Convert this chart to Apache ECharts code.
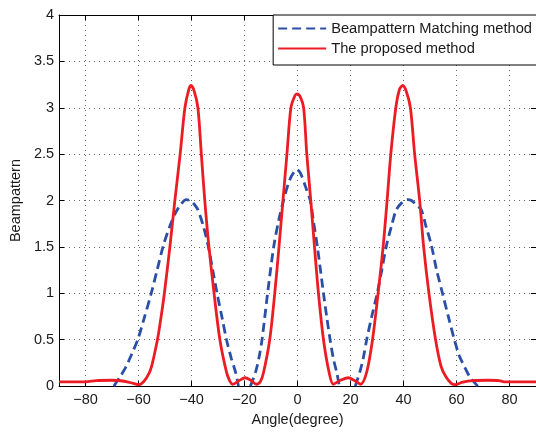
<!DOCTYPE html>
<html>
<head>
<meta charset="utf-8">
<script src="https://cdn.jsdelivr.net/npm/echarts@6/dist/echarts.min.js"></script>
<style>
html,body{margin:0;padding:0;background:#fff;}
#chart{width:536px;height:432px;}
</style>
</head>
<body>
<div id="chart"></div>
<script>
// ---- data ----
var xTicks = [-80, -60, -40, -20, 0, 20, 40, 60, 80];
var yTicks = [0, 0.5, 1, 1.5, 2, 2.5, 3, 3.5, 4];
var seriesNames = ['Beampattern Matching method', 'The proposed method'];

var matchAngles = [-69.3, -67, -64.7, -62.5, -60.3, -58, -55.3, -53, -50.6, -48.1, -46, -44, -42, -40.5, -39, -37.6, -35.5, -33.8, -32, -30.3, -28.5, -26.8, -25, -23.4, -22.3,
  -20,
  -17.8, -15.9, -14.6, -13.4, -11.3, -9.0, -7, -5.3, -3, -1, -0.2, 1, 3, 4.8, 6, 7.5, 9.8, 11, 12.3, 13.5, 14.8, 15.8,
  18.5,
  21.8, 23.5, 24.8, 26.1, 28, 30, 31.8, 33.6, 35.5, 37.3, 39.5, 41.5, 43, 45, 46.7, 48.5, 50.5, 52.5, 54.8, 57, 59.2, 61, 63, 65, 68];
var matchValues = [0, 0.1, 0.21, 0.35, 0.5, 0.72, 0.99, 1.25, 1.52, 1.73, 1.87, 1.96, 2.01, 2.0, 1.96, 1.9, 1.72, 1.52, 1.25, 0.99, 0.74, 0.5, 0.3, 0.15, 0,
  null,
  0, 0.145, 0.3, 0.5, 1.0, 1.5, 1.8, 2.0, 2.22, 2.32, 2.33, 2.3, 2.15, 2.0, 1.78, 1.5, 1.0, 0.75, 0.5, 0.3, 0.145, 0,
  null,
  0, 0.15, 0.3, 0.5, 0.75, 0.99, 1.25, 1.52, 1.73, 1.9, 1.98, 2.01, 2.0, 1.95, 1.9, 1.72, 1.52, 1.25, 0.99, 0.74, 0.5, 0.33, 0.21, 0.1, 0];

var propAngles = [-90, -80, -76, -70, -66, -62, -60, -58, -56, -55, -53, -52, -50.3, -48.1, -46.3, -44.3, -42.5, -41, -40.2, -39, -37.6, -36.3, -35, -33.5, -31.5, -29.3, -26.8, -25.5, -24.5, -22, -19.8, -17.5, -15.5, -14, -12.8, -10.5, -8.6, -7.0, -5.5, -4.0, -2.5, -1, -0.2, 1, 2.3, 3.5, 5.0, 6.4, 7.9, 9.8, 11.9, 13.5, 16, 19.2, 21.5, 23.8, 26.1, 28.3, 30.4, 32.3, 33.8, 35.2, 37.1, 38.5, 39.7, 41, 42.6, 44.2, 46.1, 47.6, 49.6, 52.1, 54.2, 56, 58, 59.5, 62, 66, 72, 76, 78, 90];
var propValues = [0.046, 0.046, 0.06, 0.063, 0.055, 0.03, 0.015, 0.05, 0.14, 0.22, 0.48, 0.65, 0.99, 1.52, 2.0, 2.5, 3.0, 3.2, 3.24, 3.18, 3.0, 2.5, 2.0, 1.52, 1.0, 0.5, 0.15, 0.05, 0.02, 0.06, 0.09, 0.06, 0.02, 0.05, 0.15, 0.5, 1.0, 1.5, 2.0, 2.5, 3.0, 3.13, 3.15, 3.12, 3.0, 2.5, 2.0, 1.5, 1.0, 0.5, 0.15, 0.02, 0.06, 0.09, 0.06, 0.02, 0.15, 0.5, 1.0, 1.5, 2.0, 2.5, 3.0, 3.2, 3.24, 3.18, 3.0, 2.5, 2.0, 1.5, 1.0, 0.5, 0.21, 0.1, 0.03, 0.015, 0.04, 0.06, 0.063, 0.06, 0.046, 0.046];

function pairs(xs, ys) {
  return xs.map(function (x, i) { return [x, ys[i] == null ? '-' : ys[i]]; });
}
function fmtX(v) { return v < 0 ? '\u2212' + Math.abs(v) : String(v); }

var FONT = 'Liberation Sans, Arial, sans-serif';
var TXT = '#1a1a1a';
var gridDots = { color: '#666', width: 1, type: [1, 4] };

var chart = echarts.init(document.getElementById('chart'), null, { renderer: 'canvas' });
chart.setOption({
  animation: false,
  backgroundColor: '#fff',
  grid: { left: 57, top: 15, width: 480, bottom: 38.3, containLabel: false },
  legend: {
    orient: 'vertical',
    right: -6, top: 15,
    padding: [6, 10, 9, 4],
    itemWidth: 48, itemHeight: 14, itemGap: 5,
    backgroundColor: '#fff',
    borderColor: '#000', borderWidth: 1,
    itemStyle: { opacity: 0, borderWidth: 0 },
    textStyle: { fontFamily: FONT, fontSize: 14.7, color: TXT, lineHeight: 14 },
    data: seriesNames
  },
  xAxis: [{
    type: 'value', min: -90, max: 90, position: 'bottom',
    name: 'Angle(degree)', nameLocation: 'middle', nameGap: 18,
    nameTextStyle: { fontFamily: FONT, fontSize: 14.5, color: TXT },
    axisLine: { onZero: false, lineStyle: { color: '#000', width: 1 } },
    axisTick: { inside: true, length: 5, customValues: xTicks, lineStyle: { color: '#000' } },
    axisLabel: { customValues: xTicks, formatter: fmtX, margin: 6, fontFamily: FONT, fontSize: 14.5, color: TXT },
    splitLine: { show: true, lineStyle: gridDots }
  }, {
    type: 'value', min: -90, max: 90, position: 'top',
    axisLine: { onZero: false, lineStyle: { color: '#000', width: 1 } },
    axisTick: { inside: true, length: 5, customValues: xTicks, lineStyle: { color: '#000' } },
    axisLabel: { show: false },
    splitLine: { show: false }
  }],
  yAxis: [{
    type: 'value', min: 0, max: 4, interval: 0.5, position: 'left',
    name: 'Beampattern', nameLocation: 'middle', nameGap: 32, nameRotate: 90,
    nameTextStyle: { fontFamily: FONT, fontSize: 14.5, color: TXT },
    axisLine: { show: true, onZero: false, lineStyle: { color: '#000', width: 1 } },
    axisTick: { show: true, inside: true, length: 5, lineStyle: { color: '#000' } },
    axisLabel: { margin: 5, fontFamily: FONT, fontSize: 14.5, color: TXT },
    splitLine: { show: true, lineStyle: gridDots }
  }, {
    type: 'value', min: 0, max: 4, interval: 0.5, position: 'right',
    axisLine: { show: true, onZero: false, lineStyle: { color: '#000', width: 1 } },
    axisTick: { show: true, inside: true, length: 5, lineStyle: { color: '#000' } },
    axisLabel: { show: false },
    splitLine: { show: false }
  }],
  series: [{
    name: seriesNames[0], type: 'line', xAxisIndex: 0, yAxisIndex: 0,
    data: pairs(matchAngles, matchValues),
    showSymbol: false, symbol: 'none', smooth: 0.3, connectNulls: false,
    lineStyle: { color: '#2b4fa6', width: 2.8, type: [9, 5] },
    itemStyle: { color: '#2b4fa6' },
    z: 3
  }, {
    name: seriesNames[1], type: 'line', xAxisIndex: 0, yAxisIndex: 0,
    data: pairs(propAngles, propValues),
    showSymbol: false, symbol: 'none', smooth: 0.3,
    lineStyle: { color: '#ec1c24', width: 2.8 },
    itemStyle: { color: '#ec1c24' },
    z: 4
  }]
});
</script>
</body>
</html>
